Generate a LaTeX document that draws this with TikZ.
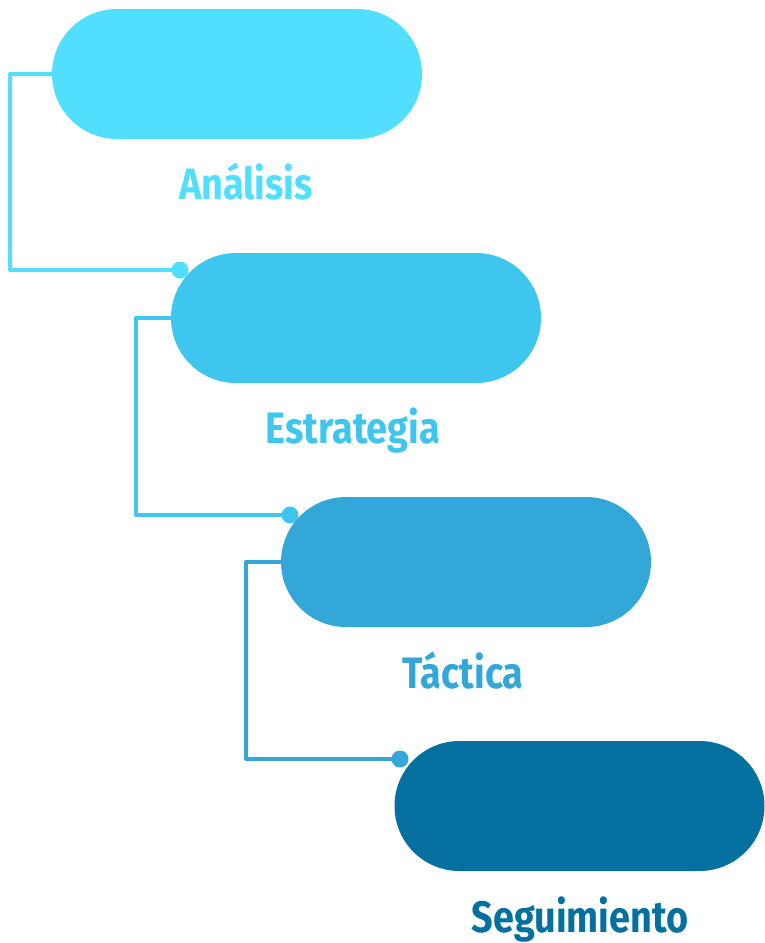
\documentclass[tikz,border=0pt]{standalone}
\usepackage{fontspec}
\setmainfont{Fira Sans}[FakeStretch=0.86]
\usetikzlibrary{positioning,shapes.misc,calc}
\definecolor{stepA}{HTML}{52DEFE}
\definecolor{stepB}{HTML}{3EC6EF}
\definecolor{stepC}{HTML}{33A7D7}
\definecolor{stepD}{HTML}{03709F}

\begin{document}
\begin{tikzpicture}[x=1pt, y=-1pt,
  pill/.style={rounded rectangle, minimum width=370pt, minimum height=130pt, inner sep=0pt},
  caption/.style={font=\bfseries\fontsize{44}{50}\selectfont, inner sep=0pt, anchor=base},
  wire/.style={line width=3.4pt, line join=round},
  knob/.style={radius=8.5pt},
]
  \useasboundingbox (0,0) rectangle (764,943);

  \node[pill, fill=stepA] (anal) at (237,74) {};
  \node[pill, fill=stepB] (estr) at (356,318) {};
  \node[pill, fill=stepC] (tact) at (466,562) {};
  \node[pill, fill=stepD] (segu) at (579.5,806) {};

  \node[caption, text=stepA] (anal-t) at ($(anal.south)+(9,60)$) {Análisis};
  \node[caption, text=stepB] (estr-t) at ($(estr.south)+(-3,60)$) {Estrategia};
  \node[caption, text=stepC] (tact-t) at ($(tact.south)+(-3,61)$) {Táctica};
  \node[caption, text=stepD] (segu-t) at ($(segu.south)+(0.5,61)$) {Seguimiento};

  % knob points near the next step
  \coordinate (k1) at ($(estr.center)+(-176,-48)$);
  \coordinate (k2) at ($(tact.center)+(-176,-47)$);
  \coordinate (k3) at ($(segu.center)+(-179.5,-47)$);

  \draw[wire, stepA] (anal.west) -- ++(-42,0) |- (k1);
  \draw[wire, stepB] (estr.west) -- ++(-35,0) |- (k2);
  \draw[wire, stepC] (tact.west) -- ++(-35,0) |- (k3);

  \fill[stepA] (k1) circle[knob];
  \fill[stepB] (k2) circle[knob];
  \fill[stepC] (k3) circle[knob];
\end{tikzpicture}
\end{document}
